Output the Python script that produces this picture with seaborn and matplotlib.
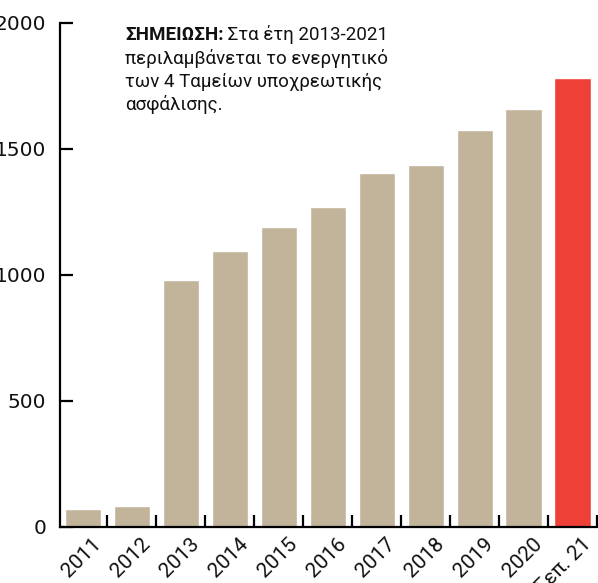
import matplotlib
matplotlib.use("Agg")
import matplotlib.pyplot as plt
import matplotlib.transforms as mtransforms
import seaborn as sns
import pandas as pd

categories = ["2011", "2012", "2013", "2014", "2015", "2016", "2017", "2018", "2019", "2020", "Σεπ. 21"]
values = [71, 83, 980, 1095, 1190, 1270, 1405, 1437, 1575, 1659, 1782]
yticks = [0, 500, 1000, 1500, 2000]
note_bold = "ΣΗΜΕΙΩΣΗ:"
note_lines = [" Στα έτη 2013-2021", "περιλαμβάνεται το ενεργητικό", "των 4 Ταμείων υποχρεωτικής", "ασφάλισης."]

TAN = "#C2B49A"
RED = "#EE4036"
colors = [TAN] * (len(categories) - 1) + [RED]

sns.set_theme(style="white")
plt.rcParams["font.family"] = ["DejaVu Sans"]

fig = plt.figure(figsize=(5.98, 5.83), dpi=100)
ax = fig.add_axes([60 / 598, 56 / 583, 538 / 598, 504 / 583])

df = pd.DataFrame({"cat": categories, "val": values})
sns.barplot(data=df, x="cat", y="val", hue="cat", palette=colors, legend=False,
            width=0.74, saturation=1, ax=ax, order=categories, hue_order=categories)

ax.set_xlim(-0.47, 10.52)
ax.set_ylim(0, 2000)
ax.set_xlabel("")
ax.set_ylabel("")
for s in ["top", "right"]:
    ax.spines[s].set_visible(False)
for s in ["left", "bottom"]:
    ax.spines[s].set_linewidth(1.6)
    ax.spines[s].set_color("black")

ax.set_yticks(yticks)
ax.set_yticklabels([str(v) for v in yticks])
ax.tick_params(axis="y", direction="in", length=9, width=1.6, pad=10,
               labelsize=14.5, colors="black", left=True)
for lbl in ax.get_yticklabels():
    lbl.set_fontweight("normal")
    lbl.set_color("#111111")

ax.set_xticks(range(len(categories)))
ax.set_xticklabels(categories, rotation=45, ha="right", va="top", rotation_mode="anchor")
ax.tick_params(axis="x", which="major", direction="out", length=0, pad=5,
               labelsize=15, labelcolor="#111111")
ax.set_xticks([i + 0.5 for i in range(len(categories))], minor=True)
ax.tick_params(axis="x", which="minor", direction="in", length=9, width=1.6, color="black", bottom=True)
offset = mtransforms.ScaledTranslation(9 / 100, 0, fig.dpi_scale_trans)
for lbl in ax.get_xticklabels():
    lbl.set_transform(lbl.get_transform() + offset)
    lbl.set_color("#111111")
    lbl.set_family(["Roboto", "DejaVu Sans"])
    lbl.set_fontweight("normal")

# Note text
nf = ["Roboto", "DejaVu Sans"]
x0, y0 = 125 / 598, 1 - 40 / 583
t = fig.text(x0, y0, note_bold, fontsize=13.5, fontweight="bold", color="#111111",
             va="baseline", family=nf)
fig.canvas.draw()
r = fig.canvas.get_renderer()
bb = t.get_window_extent(r)
fig.text(bb.x1 / fig.bbox.width, y0, note_lines[0], fontsize=13.5, color="#111111",
         va="baseline", family=nf)
for i, line in enumerate(note_lines[1:], start=1):
    fig.text(x0, y0 - i * 23.5 / 583, line, fontsize=13.5, color="#111111",
             va="baseline", family=nf)

fig.savefig("out.png", dpi=100)
